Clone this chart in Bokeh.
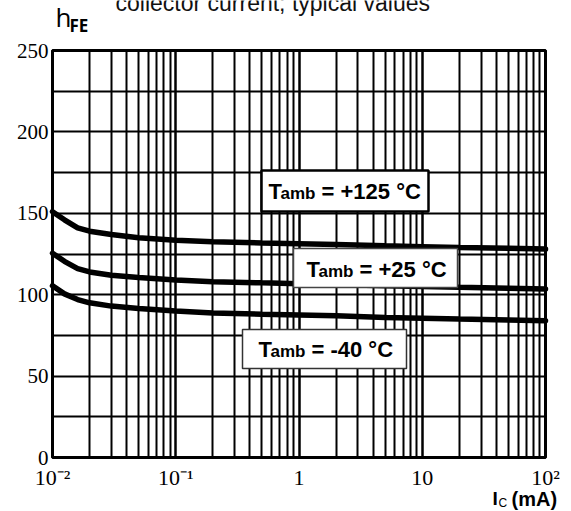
from bokeh.plotting import figure
from bokeh.models import Range1d, FixedTicker, BoxAnnotation, Label
from bokeh.embed import file_html
from bokeh.resources import INLINE

# ---- data ----
ic_ma = [0.01, 0.0125, 0.016, 0.02, 0.03, 0.05, 0.1, 0.2, 0.5, 1, 2, 5, 10, 20, 50, 100]
hfe_125 = [151, 146, 141, 139, 137, 135, 133.5, 132.5, 131.8, 131.3, 130.8, 130, 129.5, 129, 128.5, 128]
hfe_25 = [125.5, 120.5, 116, 114, 112, 110.5, 109, 108, 107.3, 106.8, 106.3, 105.5, 105, 104.5, 104, 103.5]
hfe_m40 = [105.5, 100.5, 97, 95, 93, 91.5, 90, 88.8, 88, 87.5, 87, 86, 85.5, 85, 84.5, 84]
y_ticks = [0, 50, 100, 150, 200, 250]
y_grid = [0, 25, 50, 75, 100, 125, 150, 175, 200, 225, 250]
x_ticks = [0.01, 0.1, 1, 10, 100]
x_tick_labels = ["10\u207b\u00b2", "10\u207b\u00b9", "1", "10", "10\u00b2"]
series_labels = ["= +125 \u00b0C", "= +25 \u00b0C", "= -40 \u00b0C"]
X0, X1, Y0, Y1 = 0.01, 100, 0, 250

# canvas 571 x 511; plot area in canvas pixels
W, H = 571, 511
FL, FR, FT, FB = 52.0, 545.0, 50.0, 457.0
DEC = (FR - FL) / 4.0
YPX = (FB - FT) / (Y1 - Y0)
def dx(px):  # pixel -> data x
    return 10 ** ((px - FL) / DEC - 2)
def dy(py):  # pixel -> data y
    return (FB - py) / YPX

p = figure(x_axis_type="log", width=W, height=H,
           x_range=Range1d(dx(0), dx(W)), y_range=Range1d(dy(H), dy(0)),
           min_border_left=0, min_border_right=0, min_border_top=0, min_border_bottom=0,
           output_backend="svg", toolbar_location=None)
p.background_fill_color = "white"
p.border_fill_color = "white"
p.outline_line_color = None

# grids limited to the data area
p.xgrid.bounds = (X0, X1)
p.ygrid.bounds = (Y0, Y1)
p.xgrid.cross_bounds = (Y0, Y1)
p.ygrid.cross_bounds = (X0, X1)
p.xgrid.grid_line_color = "black"
p.xgrid.grid_line_width = 2
p.xgrid.grid_line_alpha = 1
p.xgrid.minor_grid_line_color = "black"
p.xgrid.minor_grid_line_width = 2
p.ygrid.ticker = FixedTicker(ticks=y_grid)
p.ygrid.grid_line_color = "black"
p.ygrid.grid_line_width = 2
p.ygrid.grid_line_alpha = 1

# axes fixed at the data area edges
p.xaxis.fixed_location = Y0
p.yaxis.fixed_location = X0
p.xaxis.bounds = (X0, X1)
p.yaxis.bounds = (Y0, Y1)
for ax in (p.xaxis[0], p.yaxis[0]):
    ax.axis_line_color = None
    ax.major_tick_line_color = None
    ax.minor_tick_line_color = None
    ax.major_tick_out = 0
    ax.major_tick_in = 0
    ax.minor_tick_out = 0
    ax.minor_tick_in = 0
    ax.major_label_text_font = "Liberation Serif"
    ax.major_label_text_color = "black"
p.yaxis.ticker = FixedTicker(ticks=y_ticks)
p.yaxis.major_label_text_font_size = "21px"
p.yaxis.major_label_standoff = 4
p.xaxis.ticker.num_minor_ticks = 10
p.xaxis.major_label_overrides = {t: s for t, s in zip(x_ticks, x_tick_labels)}
p.xaxis.major_label_text_font_size = "22px"
p.xaxis.major_label_standoff = 7

# curves
for ys in (hfe_125, hfe_25, hfe_m40):
    p.line(ic_ma, ys, line_color="black", line_width=5.5, line_cap="round")

# plot-area border
p.add_layout(BoxAnnotation(left=X0, right=X1, bottom=Y0, top=Y1, fill_alpha=0,
                           line_color="black", line_width=3, line_alpha=1))

# boxed labels (pixels; base = text baseline)
boxes = [
    dict(l=261, r=428, t=170, b=211, tx=268, base=199, lw=2.5, lc="black"),
    dict(l=293, r=457, t=248, b=287, tx=306, base=277, lw=1.5, lc="#444444"),
    dict(l=242, r=406, t=329, b=368, tx=258, base=357, lw=1.5, lc="#333333"),
]
def label(px, base, text, size, bold=False, font="Liberation Sans", color="black", k=0.35):
    mid = base - k * size
    p.add_layout(Label(x=dx(px), y=dy(mid), text=text, text_font=font,
                       text_font_style="bold" if bold else "normal", text_font_size=f"{size}px",
                       text_baseline="middle", text_align="left", text_color=color))

for bx, txt in zip(boxes, series_labels):
    p.add_layout(BoxAnnotation(left=dx(bx["l"]), right=dx(bx["r"]), top=dy(bx["t"]), bottom=dy(bx["b"]),
                               fill_color="white", fill_alpha=1, line_color=bx["lc"],
                               line_width=bx["lw"], line_alpha=1))
    label(bx["tx"], bx["base"], "T", 22, bold=True)
    label(bx["tx"] + 12, bx["base"], "amb", 17, bold=True)
    label(bx["tx"] + 53, bx["base"], txt, 22, bold=True)

# title (cut at the top as in the reference)
label(115, 11, "collector current; typical values", 23, color="#111111")
# y axis name h_FE
label(55, 27, "h", 26, font="Open Sans", k=0.39)
label(69, 32, "FE", 17, bold=True, font="Open Sans", k=0.39)
# x axis name I_C (mA)
label(492, 505, "I", 19, bold=True)
label(498, 507, "C", 12)
label(511, 505, "(mA)", 20, bold=True)

open("out.html", "w").write(file_html(p, INLINE))
